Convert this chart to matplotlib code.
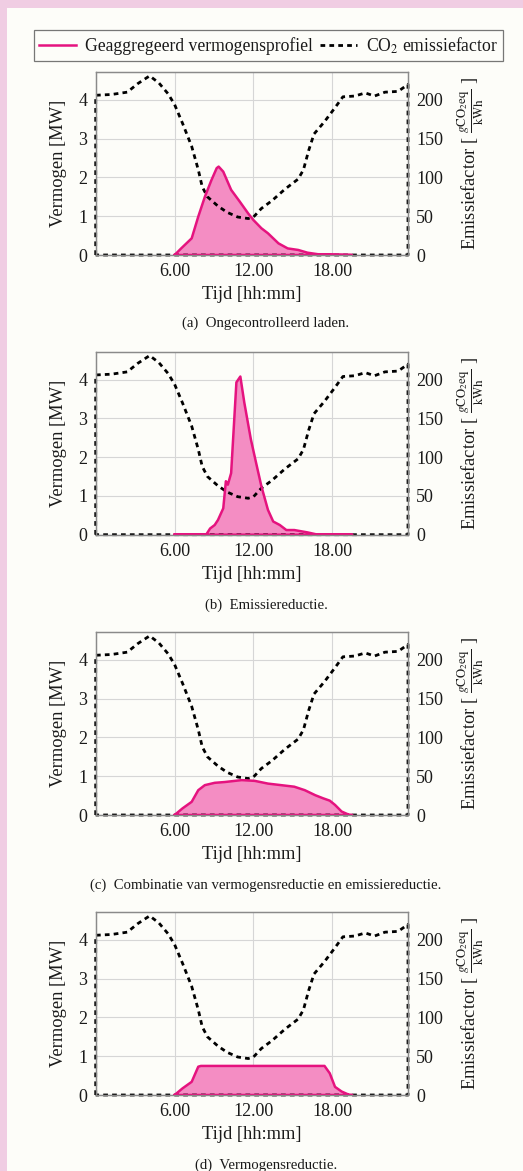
import matplotlib
matplotlib.use("Agg")
import matplotlib.pyplot as plt
from matplotlib.lines import Line2D
from matplotlib.patches import Rectangle

plt.rcParams['font.family'] = ['Liberation Serif', 'DejaVu Serif']
plt.rcParams['mathtext.fontset'] = 'stix'

# ---------------- data ----------------
co2_hours = [0, 1.2, 2.4, 3.2, 4.1, 4.8, 5.5, 6.0, 6.6, 7.3, 7.8, 8.1, 8.5, 9.3,
             10.0, 10.8, 11.6, 12.0, 12.6, 13.4, 14.4, 15.4, 15.8, 16.2, 16.6,
             17.4, 18.2, 18.8, 19.7, 20.5, 21.2, 22.0, 23.0, 23.75]
co2_values = [206, 207, 210, 221, 231, 222, 208, 194, 170, 140, 110, 88, 75, 63,
              55, 49, 47, 49, 60, 70, 85, 98, 110, 135, 156,
              172, 190, 204, 205, 209, 205, 210, 211, 220]

hours_a = [6.0, 6.5, 7.3, 7.8, 8.3, 8.8, 9.2, 9.35, 9.7, 10.3, 10.95, 11.6, 12.0,
           12.6, 13.1, 13.9, 14.6, 15.4, 16.1, 16.9, 19.5]
power_a = [0, 0.17, 0.43, 0.99, 1.5, 1.93, 2.24, 2.28, 2.15, 1.68, 1.38, 1.07, 0.9,
           0.69, 0.56, 0.3, 0.17, 0.13, 0.06, 0.02, 0]

hours_b = [6.0, 8.4, 8.7, 9.05, 9.3, 9.7, 9.9, 10.05, 10.3, 10.7, 11.0, 11.3, 11.8,
           12.2, 12.6, 13.1, 13.5, 14.0, 14.5, 15.1, 16.1, 16.9, 19.5]
power_b = [0, 0, 0.16, 0.25, 0.38, 0.68, 1.38, 1.29, 1.59, 3.93, 4.08, 3.41, 2.46,
           1.85, 1.25, 0.64, 0.34, 0.25, 0.12, 0.12, 0.06, 0, 0]

hours_c = [6.0, 6.6, 7.3, 7.8, 8.3, 9.05, 9.8, 11.1, 12.1, 13.1, 14.1, 15.1, 15.9,
           16.7, 17.3, 17.8, 18.2, 18.7, 19.3, 19.5]
power_c = [0, 0.17, 0.34, 0.64, 0.77, 0.83, 0.85, 0.9, 0.88, 0.81, 0.77, 0.73, 0.64,
           0.51, 0.43, 0.37, 0.26, 0.09, 0, 0]

hours_d = [6.0, 6.6, 7.3, 7.8, 8.0, 17.4, 17.8, 18.2, 18.7, 19.3, 19.5]
power_d = [0, 0.17, 0.34, 0.73, 0.75, 0.75, 0.56, 0.21, 0.09, 0, 0]

panels = [
    (hours_a, power_a, "(a)  Ongecontrolleerd laden."),
    (hours_b, power_b, "(b)  Emissiereductie."),
    (hours_c, power_c, "(c)  Combinatie van vermogensreductie en emissiereductie."),
    (hours_d, power_d, "(d)  Vermogensreductie."),
]

x_ticks = [6, 12, 18]
x_ticklabels = ["6.00", "12.00", "18.00"]
y_ticks = [0, 1, 2, 3, 4]
y2_ticks = [0, 50, 100, 150, 200]

# ---------------- styling ----------------
W, H = 523, 1171
fig = plt.figure(figsize=(W / 100, H / 100), dpi=100)
fig.patch.set_facecolor('#f0cde3')
fig.add_artist(Rectangle((7 / W, 0), 1 - 7 / W, 1 - 8 / H, transform=fig.transFigure,
                         facecolor='#fdfdf9', edgecolor='none', zorder=0))

PINK = '#e5137f'
FILL = '#f48dc3'
TXT = '#1a1a1a'
DASH = (0, (1.7, 1.5))
FS = 13.3

ax_left, ax_w = 95.7 / W, 312.3 / W
ax_h = 183 / H
bottoms_px = [255, 534.7, 815, 1095]
caption_px = [323, 605.5, 885, 1165]

for (hrs, pw, cap), bpx, cpx in zip(panels, bottoms_px, caption_px):
    ax = fig.add_axes([ax_left, 1 - bpx / H, ax_w, ax_h])
    ax2 = ax.twinx()
    ax.set_xlim(0, 23.75)
    ax.set_ylim(0, 4.72)
    ax2.set_ylim(0, 4.72 * 50)

    ax.set_facecolor('none')
    ax.grid(True, color='#d6d6d6', lw=0.8)
    ax.set_axisbelow(True)

    # power profile (closed to the baseline)
    ax.fill_between(hrs, pw, 0, color=FILL, lw=0, zorder=1)
    # CO2 emission factor (closed path back along the baseline)
    cx = [co2_hours[0]] + co2_hours + [co2_hours[-1], co2_hours[0]]
    cy = [0] + co2_values + [0, 0]
    ax.plot(cx, cy, transform=ax2.transData, color='black', lw=2.0,
            linestyle=DASH, zorder=2, clip_on=False)
    ax.plot(list(hrs) + [hrs[0]], list(pw) + [0], color=PINK, lw=1.8, zorder=3)

    ax.set_xticks(x_ticks)
    ax.set_xticklabels(x_ticklabels)
    ax.set_yticks(y_ticks)
    ax2.set_yticks(y2_ticks)
    for a in (ax, ax2):
        a.tick_params(length=0, labelsize=13, labelcolor=TXT)
        for s in a.spines.values():
            s.set_color('#8a8a8a')
            s.set_linewidth(0.9)
    ax.tick_params(axis='x', pad=6)
    ax.tick_params(axis='y', pad=6)
    ax2.tick_params(axis='y', pad=6)

    ax.set_xlabel("Tijd [hh:mm]", fontsize=FS, color=TXT, labelpad=4)
    ax.set_ylabel("Vermogen [MW]", fontsize=FS, color=TXT, labelpad=8)
    ax2.set_ylabel(r"Emissiefactor [ $\frac{g\mathrm{CO_2eq}}{\mathrm{kWh}}$ ]",
                   fontsize=FS, color=TXT, labelpad=9, rotation=90)

    fig.text(266 / W, 1 - cpx / H, cap, ha='center', va='center',
             fontsize=10.6, color=TXT)

handles = [Line2D([], [], color=PINK, lw=1.8),
           Line2D([], [], color='black', lw=2.0, linestyle=DASH)]
labels = ["Geaggregeerd vermogensprofiel", r"CO$_2$ emissiefactor"]
leg = fig.legend(handles, labels, loc='center', bbox_to_anchor=(268.5 / W, 1 - 45.5 / H),
                 ncol=2, fontsize=12.7, frameon=True, fancybox=False,
                 handlelength=2.1, columnspacing=0.4, handletextpad=0.5,
                 borderpad=0.32, borderaxespad=0)
leg.get_frame().set_edgecolor('#555555')
leg.get_frame().set_linewidth(0.9)
leg.get_frame().set_facecolor('#fdfdf9')
for t in leg.get_texts():
    t.set_color(TXT)

fig.savefig("out.png", dpi=100, facecolor=fig.get_facecolor())
